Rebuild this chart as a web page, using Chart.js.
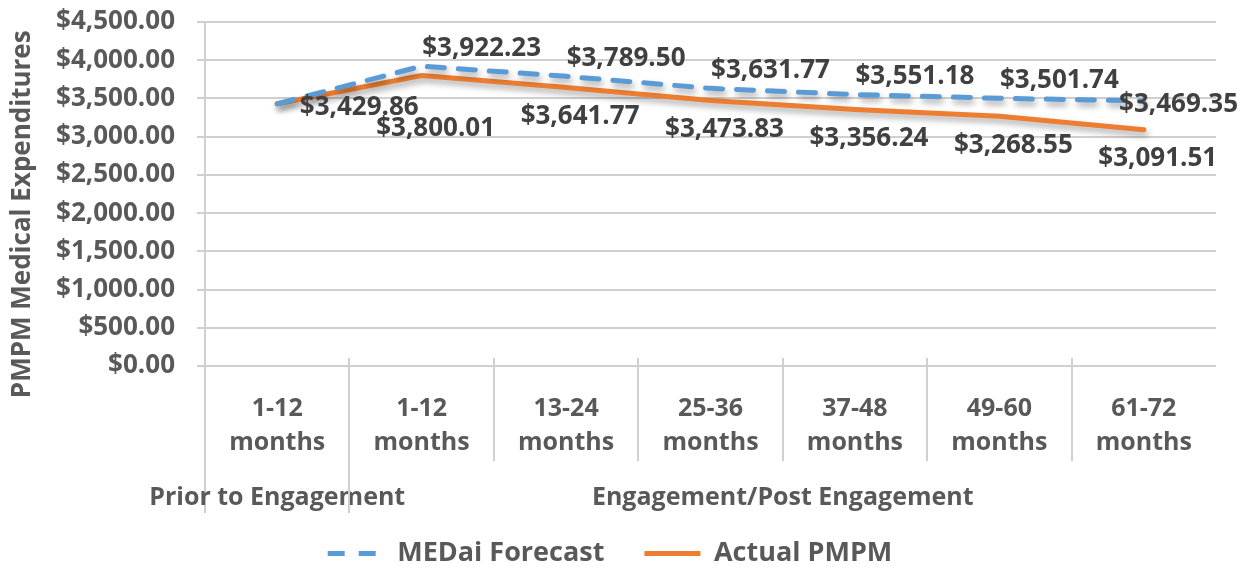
<!DOCTYPE html>
<html>
<head>
<meta charset="utf-8">
<script src="https://cdn.jsdelivr.net/npm/chart.js@4.4.1/dist/chart.umd.min.js"></script>
<style>
    html, body { margin: 0; padding: 0; background: #ffffff; }
    #contenedor { width: 1240px; height: 569px; }
</style>
</head>
<body>
<div id="contenedor"><canvas id="gastosChart"></canvas></div>
<script>
var periodos = [['1-12', 'months'], ['1-12', 'months'], ['13-24', 'months'], ['25-36', 'months'],
    ['37-48', 'months'], ['49-60', 'months'], ['61-72', 'months']];
var grupos = ['Prior to Engagement', 'Engagement/Post Engagement'];
var gruposTamano = [1, 6];
var pronostico = [3429.86, 3922.23, 3789.50, 3631.77, 3551.18, 3501.74, 3469.35];
var actual = [3429.86, 3800.01, 3641.77, 3473.83, 3356.24, 3268.55, 3091.51];

var fuente = '"Open Sans", sans-serif';
var gris = '#595959';
var lineaGris = '#d0d0d0';

function dinero(v) {
    return '$' + Number(v).toLocaleString('en-US', {minimumFractionDigits: 2, maximumFractionDigits: 2});
}

// sombra suave bajo las lineas, como en Excel
var sombraPlugin = {
    id: 'sombra',
    beforeDatasetDraw: function (chart) {
        var ctx = chart.ctx;
        ctx.save();
        ctx.shadowColor = 'rgba(0,0,0,0.35)';
        ctx.shadowBlur = 6;
        ctx.shadowOffsetX = 2;
        ctx.shadowOffsetY = 4;
    },
    afterDatasetDraw: function (chart) {
        chart.ctx.restore();
    }
};

// etiquetas de valores junto a cada punto
var etiquetasPlugin = {
    id: 'etiquetas',
    afterDatasetsDraw: function (chart) {
        var ctx = chart.ctx;
        ctx.save();
        ctx.font = 'bold 26px ' + fuente;
        ctx.fillStyle = '#404040';
        ctx.textBaseline = 'middle';
        ctx.textAlign = 'left';
        chart.data.datasets.forEach(function (ds, i) {
            var meta = chart.getDatasetMeta(i);
            meta.data.forEach(function (pt, j) {
                if (ds.sinEtiqueta && ds.sinEtiqueta.indexOf(j) >= 0) return;
                var txt = dinero(ds.data[j]);
                var w = ctx.measureText(txt).width;
                var off = (j === 0 && ds.etiquetaInicio) ? ds.etiquetaInicio : ds.etiqueta;
                var x = pt.x + off.dx - w / 2;
                var y = pt.y + off.dy + ((ds.extraY && ds.extraY[j]) || 0);
                if (x + w > chart.width - 2) {
                    x = chart.width - 2 - w;
                    y = pt.y + off.dyBorde;
                }
                ctx.fillText(txt, x, y);
            });
        });
        ctx.restore();
    }
};

// segundo nivel del eje x: grupos y separadores
var gruposPlugin = {
    id: 'grupos',
    afterDraw: function (chart) {
        var ctx = chart.ctx;
        var xs = chart.scales.x;
        var mitad = (xs.getPixelForValue(1) - xs.getPixelForValue(0)) / 2;
        var arriba = chart.chartArea.bottom - 8;
        ctx.save();
        ctx.strokeStyle = lineaGris;
        ctx.lineWidth = 2;
        for (var k = 1; k < periodos.length; k++) {
            var bx = Math.round(xs.getPixelForValue(k) - mitad);
            ctx.beginPath();
            ctx.moveTo(bx, arriba);
            ctx.lineTo(bx, xs.top + 95);
            ctx.stroke();
        }
        var inicio = 0;
        ctx.font = 'bold 25px ' + fuente;
        ctx.fillStyle = gris;
        ctx.textAlign = 'center';
        ctx.textBaseline = 'middle';
        for (var g = 0; g < grupos.length; g++) {
            var izq = xs.getPixelForValue(inicio) - mitad;
            var der = xs.getPixelForValue(inicio + gruposTamano[g] - 1) + mitad;
            ctx.beginPath();
            ctx.moveTo(Math.round(izq), arriba);
            ctx.lineTo(Math.round(izq), xs.top + 147);
            ctx.stroke();
            ctx.fillText(grupos[g], (izq + der) / 2, xs.top + 132);
            inicio += gruposTamano[g];
        }
        ctx.restore();
    }
};

var ctx = document.getElementById('gastosChart').getContext('2d');
var chart = new Chart(ctx, {
    type: 'line',
    data: {
        labels: periodos,
        datasets: [{
                label: 'MEDai Forecast',
                data: pronostico,
                borderColor: '#5B9BD5',
                backgroundColor: '#5B9BD5',
                borderWidth: 5,
                borderDash: [17, 14],
                borderCapStyle: 'round',
                pointRadius: 0,
                tension: 0,
                sinEtiqueta: [0],
                etiqueta: {dx: 60, dy: -18, dyBorde: 4}
            }, {
                label: 'Actual PMPM',
                data: actual,
                borderColor: '#ED7D31',
                backgroundColor: '#ED7D31',
                borderWidth: 5,
                borderCapStyle: 'round',
                pointRadius: 0,
                tension: 0,
                etiqueta: {dx: 14, dy: 29, dyBorde: 29},
                etiquetaInicio: {dx: 82, dy: 4, dyBorde: 4},
                extraY: {1: 24}
            }]
    },
    options: {
        responsive: true,
        maintainAspectRatio: false,
        animation: false,
        layout: {padding: {left: 4, right: 24, top: 0, bottom: -8}},
        plugins: {
            legend: {
                position: 'bottom',
                labels: {
                    usePointStyle: true,
                    pointStyle: 'line',
                    pointStyleWidth: 56,
                    padding: 12,
                    color: gris,
                    font: {family: fuente, size: 27, weight: 'bold'},
                    generateLabels: function (chart) {
                        var items = Chart.defaults.plugins.legend.labels.generateLabels(chart);
                        items.forEach(function (it, n) {
                            var ds = chart.data.datasets[it.datasetIndex];
                            it.lineDash = ds.borderDash || [];
                            it.lineWidth = 5;
                            it.strokeStyle = ds.borderColor;
                            if (n < items.length - 1) it.text = it.text + '    ';
                        });
                        return items;
                    }
                }
            },
            tooltip: {enabled: false}
        },
        scales: {
            x: {
                offset: true,
                grid: {display: false, drawTicks: false},
                border: {display: false},
                ticks: {
                    color: gris,
                    padding: 26,
                    maxRotation: 0,
                    font: {family: fuente, size: 25, weight: 'bold', lineHeight: 1.35}
                },
                afterFit: function (scale) {
                    scale.height = 162;
                }
            },
            y: {
                min: 0,
                max: 4500,
                grid: {color: lineaGris, lineWidth: 2, tickLength: 8},
                border: {color: lineaGris, width: 2},
                ticks: {
                    stepSize: 500,
                    color: gris,
                    padding: 22,
                    font: {family: fuente, size: 26, weight: 'bold'},
                    callback: function (v) { return dinero(v); }
                },
                title: {
                    display: true,
                    text: 'PMPM Medical Expenditures      ',
                    color: gris,
                    padding: {top: 3, bottom: 4},
                    font: {family: fuente, size: 26, weight: 'bold'}
                },
                afterFit: function (scale) {
                    scale.width = 201;
                    scale.paddingTop = 22;
                    scale.paddingBottom = 16;
                }
            }
        }
    },
    plugins: [sombraPlugin, etiquetasPlugin, gruposPlugin]
});
</script>
</body>
</html>
